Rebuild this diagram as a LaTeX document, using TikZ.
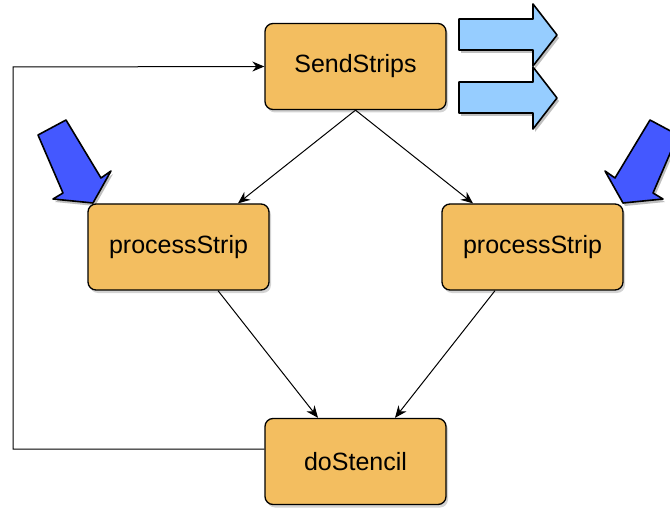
\documentclass[tikz,border=0pt]{standalone}
\usepackage{fontspec}
\setmainfont{Liberation Sans}
\usetikzlibrary{arrows.meta,shadows}

\definecolor{boxfill}{RGB}{243,190,96}
\definecolor{sendblue}{RGB}{150,205,255}
\definecolor{recvblue}{RGB}{68,88,255}

\begin{document}
\begin{tikzpicture}[
    x=1pt, y=-1pt,
    task/.style={
        rectangle,
        rounded corners=8pt,
        draw,
        line width=1.3pt,
        fill=boxfill,
        minimum width=181pt,
        minimum height=86pt,
        font=\fontsize{25}{30}\selectfont,
        drop shadow={shadow xshift=2pt, shadow yshift=-3pt, opacity=0.35}
    },
    flow/.style={
        -{Stealth[length=12pt,width=10pt]},
        line width=1pt
    },
    blockshadow/.style={
        fill=black,
        opacity=0.25,
        shift={(2pt,-3pt)}
    },
    blockline/.style={
        draw=black,
        line width=1.6pt,
        line join=round
    }
]
\useasboundingbox (0,0) rectangle (670,508);

% Outgoing messages
\foreach \dy in {0,63}{
    \fill[blockshadow] (459,19+\dy) -- (533,19+\dy) -- (533,4+\dy) -- (557,35+\dy)
        -- (533,66+\dy) -- (533,50+\dy) -- (459,50+\dy) -- cycle;
    \fill[sendblue] (459,19+\dy) -- (533,19+\dy) -- (533,4+\dy) -- (557,35+\dy)
        -- (533,66+\dy) -- (533,50+\dy) -- (459,50+\dy) -- cycle;
    \draw[blockline] (459,19+\dy) -- (533,19+\dy) -- (533,4+\dy) -- (557,35+\dy)
        -- (533,66+\dy) -- (533,50+\dy) -- (459,50+\dy) -- cycle;
}

% Incoming messages
\begin{scope}
\clip (0,0) rectangle (670,508);
\foreach \s/\o in {1/0,-1/716}{
    \fill[blockshadow] (\o+\s*38,135) -- (\o+\s*66,120) -- (\o+\s*101,178) -- (\o+\s*111,171)
        -- (\o+\s*93,203) -- (\o+\s*53,199) -- (\o+\s*63,193) -- cycle;
    \fill[recvblue] (\o+\s*38,135) -- (\o+\s*66,120) -- (\o+\s*101,178) -- (\o+\s*111,171)
        -- (\o+\s*93,203) -- (\o+\s*53,199) -- (\o+\s*63,193) -- cycle;
    \draw[blockline] (\o+\s*38,135) -- (\o+\s*66,120) -- (\o+\s*101,178) -- (\o+\s*111,171)
        -- (\o+\s*93,203) -- (\o+\s*53,199) -- (\o+\s*63,193) -- cycle;
}
\end{scope}

% Nodes
\node[task] (send) at (355.5,66.5) {SendStrips};

\node[task] (left) at (178.5,247) {processStrip};
\node[task] (right) at (532.5,247) {processStrip};

\node[task] (stencil) at (355.5,461.5) {doStencil};

\coordinate (loopdown) at (13,449);
\coordinate (loopup) at (13,67);

% Edges
\draw[flow] (send.south) -- (left.north east -| 238,0);
\draw[flow] (send.south) -- (right.north west -| 473,0);

\draw[flow] (left.south -| 218,0) -- (stencil.north -| 318,0);
\draw[flow] (right.south -| 495,0) -- (stencil.north -| 395,0);

\draw[flow] (stencil.west |- 0,449) -- (loopdown) -- (loopup) -- (send.west);

\end{tikzpicture}
\end{document}
